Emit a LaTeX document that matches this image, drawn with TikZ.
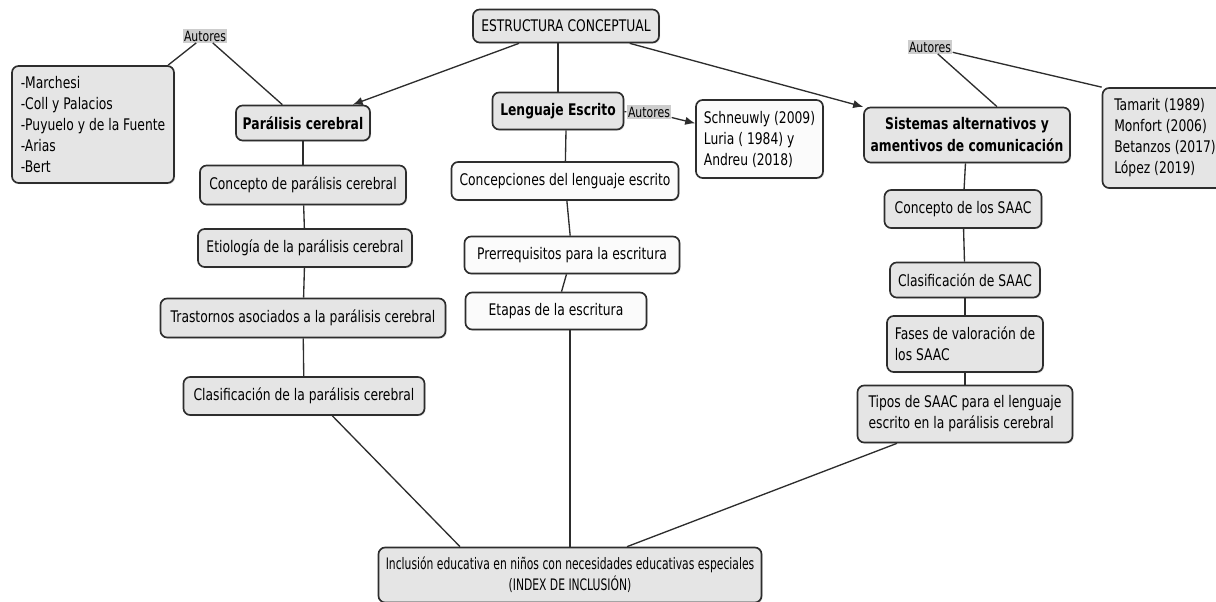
\documentclass[tikz,border=0pt]{standalone}
\usepackage{fontspec}
\setmainfont{DejaVu Sans}[FakeStretch=0.77]
\newfontfamily\narrowfont{DejaVu Sans}[FakeStretch=0.68]
\usepackage{tikz}
\usetikzlibrary{positioning, arrows.meta, shadows}
\definecolor{boxgray}{RGB}{229, 229, 229}
\definecolor{boxwhite}{RGB}{251, 251, 251}
\definecolor{edgecol}{RGB}{45, 45, 45}
\definecolor{tagcol}{RGB}{205, 205, 205}

\begin{document}
\begin{tikzpicture}[
  x=0.6pt, y=-0.6pt,
  >={Latex[length=6pt, width=5pt]},
  % --- Styles ---
  cbox/.style={
    rectangle, rounded corners=4pt, draw=edgecol, fill=#1,
    line width=1pt, align=center, inner sep=2pt,
    font=\fontsize{9.6}{12.6}\selectfont,
    drop shadow={shadow xshift=0.7pt, shadow yshift=-0.7pt, fill=black!25}},
  cbox/.default=boxgray,
  hbox/.style={cbox, font=\bfseries\fontsize{9.6}{13.2}\selectfont},
  lbox/.style={cbox=#1, align=left},
  lbox/.default=boxgray,
  tag/.style={fill=tagcol, inner sep=0.8pt, font=\fontsize{8.5}{9}\selectfont},
  link/.style={line width=0.8pt, edgecol},
]
\useasboundingbox (0,0) rectangle (1216,602);
% === NODES ===
% top
\node[cbox, minimum width=111.6pt, minimum height=19.8pt] (ES) at (566,26) {ESTRUCTURA CONCEPTUAL};
% 1. Paralisis cerebral
\node[hbox, minimum width=80.4pt, minimum height=21pt] (PC) at (303,123) {Parálisis cerebral};
\node[cbox, minimum width=123.6pt, minimum height=23.4pt] (C1) at (303,185) {Concepto de parálisis cerebral};
\node[cbox, minimum width=128.4pt, minimum height=22.8pt] (C2) at (305,248) {Etiología de la parálisis cerebral};
\node[cbox, minimum width=171pt, minimum height=23.4pt] (C3) at (303,318) {Trastornos asociados a la parálisis cerebral};
\node[cbox, minimum width=144.6pt, minimum height=22.8pt] (C4) at (304,396) {Clasificación de la parálisis cerebral};
\node[tag] (AuL) at (205,36) {Autores};
\node[lbox, minimum width=97.2pt, minimum height=70.2pt] (AL) at (93,124.5) {-Marchesi\\-Coll y Palacios\\-Puyuelo y de la Fuente\\-Arias\\-Bert};
% 2. Lenguaje escrito
\node[hbox, minimum width=78.6pt, minimum height=22.2pt] (LE) at (558,111) {Lenguaje Escrito};
\node[cbox=boxwhite, minimum width=136.2pt, minimum height=22.8pt] (L1) at (565,181) {Concepciones del lenguaje escrito};
\node[cbox=boxwhite, minimum width=129pt, minimum height=22.2pt] (L2) at (572,255) {Prerrequisitos para la escritura};
\node[cbox=boxwhite, minimum width=108.6pt, minimum height=22.2pt] (L3) at (556,311) {Etapas de la escritura};
\node[tag] (AuM) at (649,112) {Autores};
\node[lbox=boxwhite, minimum width=76.2pt, minimum height=46.8pt] (SB) at (759.5,139) {Schneuwly (2009)\\Luria ( 1984) y\\Andreu (2018)};
% 3. SAAC
\node[hbox, minimum width=123.6pt, minimum height=33pt] (SA) at (967,135) {Sistemas alternativos y\\amentivos de comunicación};
\node[cbox, minimum width=94.2pt, minimum height=22.8pt] (S1) at (963,209) {Concepto de los SAAC};
\node[cbox, minimum width=90pt, minimum height=21pt] (S2) at (965,280) {Clasificación de SAAC};
\node[lbox, minimum width=93.6pt, minimum height=33.6pt] (S3) at (965,344) {Fases de valoración de\\los SAAC};
\node[lbox, minimum width=129pt, minimum height=34.2pt] (S4) at (965,414) {Tipos de SAAC para el lenguaje\\escrito en la parálisis cerebral};
\node[tag] (AuR) at (930,47) {Autores};
\node[lbox, minimum width=75pt, minimum height=60pt] (TB) at (1165,138) {Tamarit (1989)\\Monfort (2006)\\Betanzos (2017)\\López (2019)};
% bottom
\node[cbox, minimum width=229.8pt, minimum height=33pt, font=\narrowfont\fontsize{9.5}{12.4}\selectfont] (IN) at (570,575) {Inclusión educativa en niños con necesidades educativas especiales\\(INDEX DE INCLUSIÓN)};
% === ARROWS ===
% from the top node
\draw[link, ->] (ES) -- (PC);
\draw[link] (LE.north) -- (LE.north |- ES.south);
\draw[link, ->] (ES) -- (SA);
% authors
\draw[link] (PC) -- (AuL);
\draw[link] (AuL) -- (AL);
\draw[link] (LE) -- (AuM);
\draw[link, ->] (AuM) -- (SB);
\draw[link] ([xshift=18pt]SA.north) -- (AuR);
\draw[link] (AuR) -- (TB.north west);
% chains
\draw[link] (PC) -- (C1);
\draw[link] (C1) -- (C2);
\draw[link] (C2) -- (C3);
\draw[link] (C3) -- (C4);
\draw[link] ([xshift=4.8pt]LE.south) -- (L1);
\draw[link] (L1) -- (L2);
\draw[link] (L2) -- (L3);
\draw[link] (SA) -- (S1);
\draw[link] (S1) -- (S2);
\draw[link] (S2) -- (S3);
\draw[link] (S3) -- (S4);
% to the bottom node
\draw[link] ([xshift=17pt]C4.south) -- ([xshift=-66pt]IN.north);
\draw[link] (IN.north) -- (IN.north |- L3.south);
\draw[link] ([xshift=-40.8pt]S4.south) -- ([xshift=34.2pt]IN.north);
\end{tikzpicture}
\end{document}
